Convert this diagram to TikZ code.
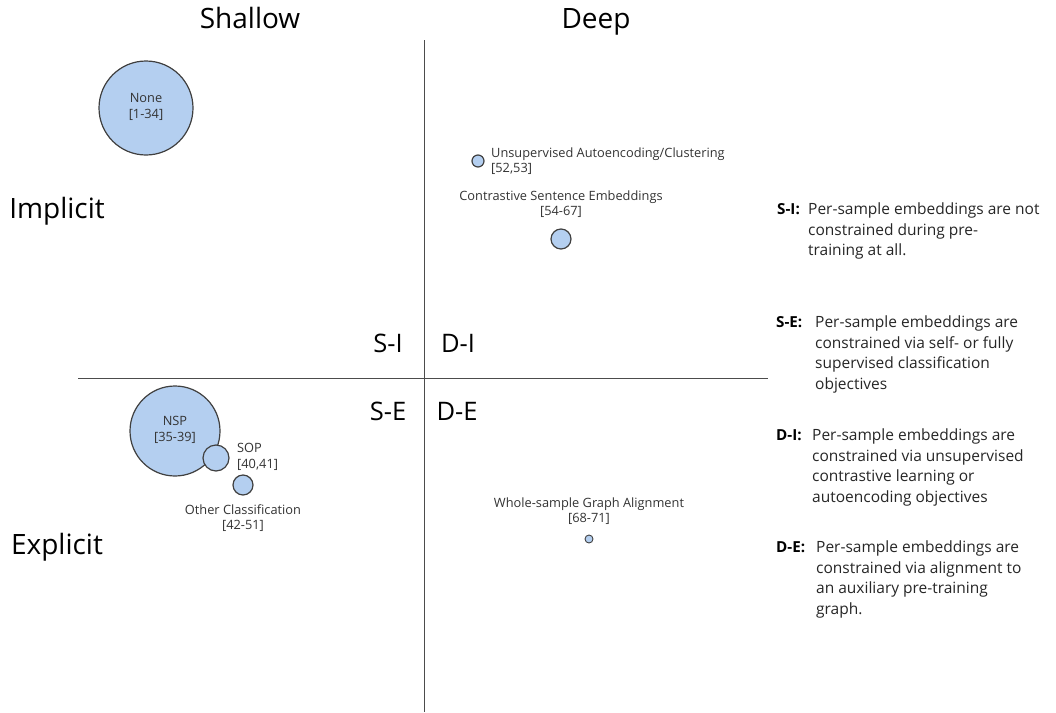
\documentclass[tikz,border=0pt]{standalone}
\usepackage{fontspec}
\setmainfont{Open Sans}
\begin{document}
\begin{tikzpicture}[x=1pt,y=-1pt,
  bubble/.style={circle,draw=black!75,line width=1.2pt,fill=bubblefill,inner sep=0pt},
  small/.style={font=\fontsize{12.8}{15.5}\selectfont,text=black!80,align=center,inner sep=0pt},
  big/.style={font=\fontsize{28}{32}\selectfont,inner sep=0pt,anchor=base},
  quad/.style={font=\fontsize{25.5}{28}\selectfont,inner sep=0pt,anchor=base},
  legkey/.style={font=\fontsize{15.2}{20.5}\selectfont\bfseries,inner sep=0pt,anchor=north west},
  legtxt/.style={font=\fontsize{15.5}{20.5}\selectfont,text=black!85,inner sep=0pt,anchor=north west,align=left},
  axis/.style={draw=black!70,line width=0.8pt}]
\definecolor{bubblefill}{RGB}{180,207,240}
\useasboundingbox (0,0) rectangle (1056,712);
% axes
\coordinate (vt) at (424,40);
\coordinate (vb) at (424,712);
\coordinate (hl) at (78,378);
\coordinate (hr) at (768,378);
\draw[axis] (vt) -- (vb);
\draw[axis] (hl) -- (hr);
% headings
\node[big] (shallow) at (250,28) {Shallow};
\node[big] (deep) at (596,28) {Deep};
\node[big] (implicit) at (57,218) {Implicit};
\node[big] (explicit) at (57,554) {Explicit};
% quadrant labels
\node[quad] (si) at (388,352) {S-I};
\node[quad] (di) at (458,352) {D-I};
\node[quad] (se) at (388,420) {S-E};
\node[quad] (de) at (457,420) {D-E};
% bubbles
\node[bubble,minimum size=94pt] (none) at (146,108) {};
\node[small] (nonet) at (146,107) {None\\{}[1-34]};
\node[bubble,minimum size=12pt] (uac) at (478,161) {};
\node[small,anchor=west,align=left] (uact) at (491,161) {Unsupervised Autoencoding/Clustering\\{}[52,53]};
\node[small] (cset) at (561,204) {Contrastive Sentence Embeddings\\{}[54-67]};
\node[bubble,minimum size=20pt] (cse) at (561,239) {};
\node[bubble,minimum size=90pt] (nsp) at (175,431) {};
\node[small] (nspt) at (175,430) {NSP\\{}[35-39]};
\node[bubble,minimum size=26pt] (sop) at (216,458) {};
\node[small,anchor=west,align=left] (sopt) at (237,457) {SOP\\{}[40,41]};
\node[bubble,minimum size=20pt] (oc) at (243,485) {};
\node[small] (oct) at (243,518) {Other Classification\\{}[42-51]};
\node[small] (wsgt) at (589,511) {Whole-sample Graph Alignment\\{}[68-71]};
\node[bubble,minimum size=8pt,line width=0.9pt] (wsg) at (589,539) {};
% legend
\node[legkey] (k1) at (777,203) {S-I:};
\node[legtxt] (t1) at (808,203) {Per-sample embeddings are not\\constrained during pre-\\training at all.};
\node[legkey] (k2) at (776,316) {S-E:};
\node[legtxt] (t2) at (815,316) {Per-sample embeddings are\\constrained via self- or fully\\supervised classification\\objectives};
\node[legkey] (k3) at (776,429) {D-I:};
\node[legtxt] (t3) at (812,429) {Per-sample embeddings are\\constrained via unsupervised\\contrastive learning or\\autoencoding objectives};
\node[legkey] (k4) at (776,541) {D-E:};
\node[legtxt] (t4) at (816,541) {Per-sample embeddings are\\constrained via alignment to\\an auxiliary pre-training\\graph.};
\end{tikzpicture}
\end{document}
